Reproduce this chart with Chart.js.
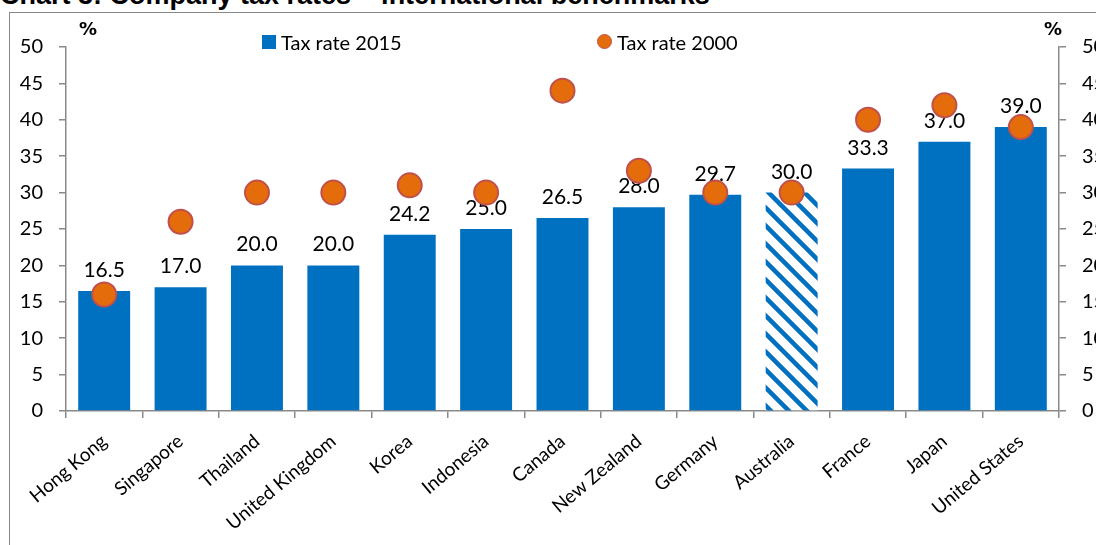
<!DOCTYPE html>
<html><head><meta charset="utf-8">
<script src="https://cdn.jsdelivr.net/npm/chart.js@4.4.0/dist/chart.umd.min.js"></script>
<style>
html,body{margin:0;padding:0;width:1096px;height:545px;overflow:hidden;background:#fff;}
#title{position:absolute;left:0;top:-20px;font:bold 27px "Liberation Sans",Arial,sans-serif;white-space:nowrap;color:#000;line-height:30px}
#frame{position:absolute;left:9px;top:12px;width:1200px;height:600px;border-left:1px solid #898989;border-top:1px solid #898989;box-sizing:border-box}
#wrap{position:absolute;left:0;top:0;width:1140px;height:545px}
.pct{position:absolute;top:19px;font:bold 18px "DejaVu Sans",sans-serif;line-height:20px;color:#000}
.leg{position:absolute;top:30px;font:20px Lato,sans-serif;line-height:24px;color:#000;white-space:nowrap}
.sq{position:absolute;width:14px;height:14px;background:#0070C0}
.dot{position:absolute;width:13px;height:13px;border-radius:50%;background:#E46C0A;border:1.5px solid #C0504D}
</style></head>
<body>
<div id="title">Chart 3: Company tax rates – international benchmarks</div>
<div id="frame"></div>
<div id="wrap"><canvas id="c" width="1140" height="545"></canvas></div>
<div class="pct" style="left:79px">%</div>
<div class="pct" style="left:1044px">%</div>
<div class="sq" style="left:262px;top:35px"></div>
<div class="leg" style="left:281px">Tax rate 2015</div>
<div class="dot" style="left:597px;top:34px"></div>
<div class="leg" style="left:617px">Tax rate 2000</div>
<script>
const categories = ['Hong Kong','Singapore','Thailand','United Kingdom','Korea','Indonesia','Canada','New Zealand','Germany','Australia','France','Japan','United States'];
const rate2015 = [16.5,17.0,20.0,20.0,24.2,25.0,26.5,28.0,29.7,30.0,33.3,37.0,39.0];
const rate2000 = [16,26,30,30,31,30,44,33,30,30,40,42,39];
const yMin = 0, yMax = 50, yStep = 5;
const hatchedCategory = 'Australia';

const BLUE = '#0070C0';
function makeHatch(){
  const s = 18;
  const p = document.createElement('canvas');
  p.width = s; p.height = s;
  const g = p.getContext('2d');
  g.fillStyle = '#fff'; g.fillRect(0,0,s,s);
  g.strokeStyle = BLUE; g.lineWidth = 4.5;
  g.beginPath();
  g.moveTo(-s,-s); g.lineTo(2*s,2*s);
  g.moveTo(-2*s,-s); g.lineTo(s,2*s);
  g.moveTo(0,-s); g.lineTo(3*s,2*s);
  g.stroke();
  return document.getElementById('c').getContext('2d').createPattern(p,'repeat');
}
const hatch = makeHatch();
const barColors = categories.map(c => c === hatchedCategory ? hatch : BLUE);

const labelPlugin = {
  id:'barLabels',
  afterDatasetDraw(chart, args){
    if (args.index !== 0) return;
    const ctx = chart.ctx;
    ctx.save();
    ctx.font = '21px Lato';
    ctx.fillStyle = '#000';
    ctx.textAlign = 'center';
    ctx.textBaseline = 'alphabetic';
    args.meta.data.forEach((bar,i)=>{
      ctx.fillText(rate2015[i].toFixed(1), bar.x, bar.y - 14);
    });
    ctx.restore();
  }
};

const AX = '#898989';
const tickFont = {family:'Lato', size:20};
new Chart(document.getElementById('c'), {
  type:'bar',
  data:{
    labels: categories,
    datasets:[
      {label:'Tax rate 2015', data: rate2015, backgroundColor: barColors, borderWidth:0,
       barPercentage:0.68, categoryPercentage:1.0, order:2, yAxisID:'y'},
      {type:'line', label:'Tax rate 2000', data: rate2000, showLine:false,
       pointRadius:12, pointHoverRadius:12, pointBackgroundColor:'#E46C0A',
       pointBorderColor:'#C0504D', pointBorderWidth:2, order:1, yAxisID:'y', clip:false}
    ]
  },
  options:{
    responsive:false, animation:false, events:[],
    layout:{padding:{top:47,left:0,right:0,bottom:0}},
    plugins:{legend:{display:false}, tooltip:{enabled:false}},
    scales:{
      x:{
        offset:true,
        grid:{offset:true, drawOnChartArea:false, tickLength:7, color:AX, lineWidth:1.5},
        border:{color:AX, width:1.5},
        ticks:{autoSkip:false, maxRotation:40, minRotation:40, color:'#000', font:{family:'Lato', size:19}, padding:12},
        afterFit(s){ s.height = 134; }
      },
      y:{
        position:'left', min:yMin, max:yMax,
        grid:{drawOnChartArea:false, tickLength:7, color:AX, lineWidth:1.5},
        border:{color:AX, width:1.5},
        ticks:{stepSize:yStep, padding:16, color:'#000', font:tickFont},
        afterFit(s){ s.width = 66; }
      },
      y2:{
        position:'right', min:yMin, max:yMax,
        grid:{drawOnChartArea:false, tickLength:7, color:AX, lineWidth:1.5},
        border:{color:AX, width:1.5},
        ticks:{stepSize:yStep, padding:16, color:'#000', font:tickFont},
        afterFit(s){ s.width = 81; }
      }
    }
  },
  plugins:[labelPlugin]
});
</script>
</body></html>
